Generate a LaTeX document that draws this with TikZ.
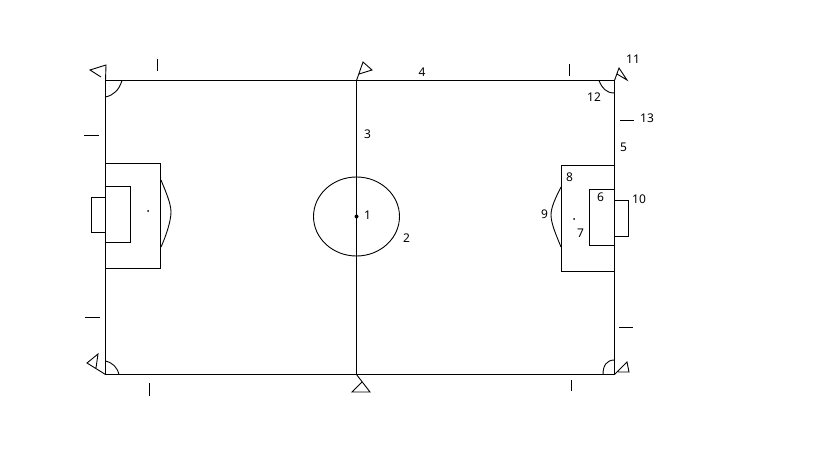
\documentclass[tikz,border=0pt]{standalone}
\usepackage{fontspec}
\setmainfont{Noto Sans}
\begin{document}
\begin{tikzpicture}[x=1pt,
                    y=-1pt,
                    line width=1pt,
                    num/.style={inner sep=0pt,font=\fontsize{12}{14}\selectfont,text=black},
                    thinline/.style={line width=0.9pt},
                    spot/.style={fill,inner sep=0pt,minimum size=2pt,circle}
                    ]
\useasboundingbox (0,0) rectangle (819,460);
% pitch
  \draw (105.5,80.5) rectangle (614.5,374.5);
  \draw (356.5,80.5) -- (356.5,374.5);
  \draw[thinline] (356.5,216.5) ellipse (43 and 39.5);
  \node[spot,minimum size=4pt] (centre) at (356.5,216.5) {};

% left end
  \draw (105.5,163.5) rectangle (160.5,268.5);
  \draw (105.5,186.5) rectangle (130.5,242.5);
  \draw (105.5,197.5) rectangle (91.5,232.5);
  \node[spot] (leftspot) at (148,211) {};
  \draw[thinline] (161,180) .. controls (165,190) and (171,203) .. (171,212) .. controls (171,221) and (166,236) .. (161,247);

% right end
  \draw (561.5,165.5) rectangle (614.5,271.5);
  \draw (589.5,189.5) rectangle (614.5,245.5);
  \draw (614.5,200.5) rectangle (628.5,236.5);
  \node[spot] (rightspot) at (574,219) {};
  \draw[thinline] (561,187) .. controls (556,197) and (551,207) .. (551,215) .. controls (551,224) and (557,237) .. (561,247);

% corner arcs
  \draw[thinline] (122,80.5) .. controls (119,90) and (114,95) .. (105.5,97);
  \draw[thinline] (119,374.5) .. controls (117,367) and (113,363) .. (105.5,361);
  \draw[thinline] (599,80.5) .. controls (602,88) and (606,93) .. (614.5,93);
  \draw[thinline] (603,374.5) .. controls (603,365) and (607,360) .. (614.5,360);

% flags
  \draw[thinline] (105.5,80.5) -- (106,65) -- (90,70) -- (101,77);
  \draw[thinline] (356.5,80.5) -- (363,62) -- (372,70) -- (359,74);
  \draw[thinline] (614.5,80.5) -- (619,68) -- (627,80) -- (617,74);
  \draw[thinline] (105.5,374.5) -- (87,363) -- (98,354) -- (96,368);
  \draw[thinline] (356.5,374.5) -- (370,392) -- (352,392) -- (362,382);
  \draw[thinline] (614.5,374.5) -- (627,362) -- (629,372) -- (618,372);

% ticks
  \draw (157.5,59) -- (157.5,71);
  \draw (84,135.5) -- (99,135.5);
  \draw (85,317.5) -- (100,317.5);
  \draw (149.5,383) -- (149.5,396);
  \draw (569.5,64) -- (569.5,76);
  \draw (620,120.5) -- (634,120.5);
  \draw (619,327.5) -- (633,327.5);
  \draw (571.5,380) -- (571.5,391);

% labels
  \node[num] (1) at (367.5,215.5) {1};
  \node[num] (2) at (406.5,238.5) {2};
  \node[num] (3) at (367.5,134.5) {3};
  \node[num] (4) at (422,72.5) {4};
  \node[num] (5) at (623.5,147.5) {5};
  \node[num] (6) at (600.5,197.5) {6};
  \node[num] (7) at (580.5,233.5) {7};
  \node[num] (8) at (569.5,177.5) {8};
  \node[num] (9) at (544.5,214.5) {9};
  \node[num] (10) at (639,199.5) {10};
  \node[num] (11) at (633,59.5) {11};
  \node[num] (12) at (594,97.5) {12};
  \node[num] (13) at (647,118.5) {13};
\end{tikzpicture}
\end{document}
